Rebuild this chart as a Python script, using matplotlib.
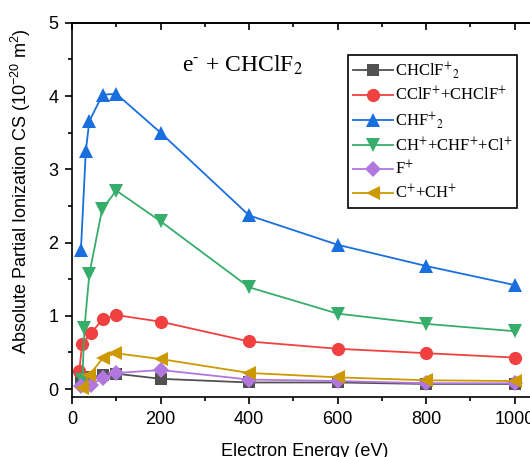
import numpy as np
import matplotlib
matplotlib.use('Agg')
import matplotlib.pyplot as plt
from matplotlib.ticker import MultipleLocator

e_chclf2 = [20, 40, 70, 100, 200, 400, 600, 800, 1000]
cs_chclf2 = [0.11, 0.16, 0.19, 0.21, 0.14, 0.09, 0.09, 0.07, 0.07]

e_cclf = [16, 23, 42, 69, 100, 200, 400, 600, 800, 1000]
cs_cclf = [0.24, 0.62, 0.76, 0.95, 1.01, 0.92, 0.65, 0.55, 0.49, 0.43]

e_chf2 = [20, 31, 39, 69, 100, 200, 400, 600, 800, 1000]
cs_chf2 = [1.90, 3.25, 3.66, 4.02, 4.03, 3.50, 2.37, 1.97, 1.68, 1.42]

e_ch = [23, 28, 39, 68, 100, 200, 400, 600, 800, 1000]
cs_ch = [0.12, 0.84, 1.57, 2.46, 2.71, 2.29, 1.39, 1.03, 0.89, 0.79]

e_f = [20, 42, 69, 100, 200, 400, 600, 800, 1000]
cs_f = [0.04, 0.06, 0.15, 0.22, 0.26, 0.13, 0.11, 0.08, 0.08]

e_c = [22, 39, 69, 98, 200, 400, 600, 800, 1000]
cs_c = [0.01, 0.19, 0.42, 0.49, 0.41, 0.22, 0.16, 0.12, 0.11]

labels = ['CHClF$^{+}$$_{2}$', 'CClF$^{+}$+CHClF$^{+}$', 'CHF$^{+}$$_{2}$',
          'CH$^{+}$+CHF$^{+}$+Cl$^{+}$', 'F$^{+}$', 'C$^{+}$+CH$^{+}$']


def main():
    fig = plt.figure(figsize=(5.3, 4.57), dpi=100)
    ax = fig.add_axes([0.136, 0.131, 0.877, 0.819])

    series = [
        (e_chclf2, cs_chclf2, '#515151', 's', 8.5),
        (e_cclf, cs_cclf, '#F14040', 'o', 9.5),
        (e_chf2, cs_chf2, '#1A6FDF', '^', 10.5),
        (e_ch, cs_ch, '#37AD6B', 'v', 10.5),
        (e_f, cs_f, '#B177DE', 'D', 8),
        (e_c, cs_c, '#CC9900', '<', 10.5),
    ]
    for (x, y, c, m, ms), lab in zip(series, labels):
        ax.plot(x, y, color=c, marker=m, markersize=ms, linewidth=1.3,
                markeredgewidth=0, label=lab)

    ax.set_xlim(0, 1050)
    ax.set_ylim(-0.11, 5)
    ax.xaxis.set_major_locator(MultipleLocator(200))
    ax.xaxis.set_minor_locator(MultipleLocator(100))
    ax.yaxis.set_major_locator(MultipleLocator(1))
    ax.yaxis.set_minor_locator(MultipleLocator(0.5))

    for s in ax.spines.values():
        s.set_linewidth(1.2)
    ax.tick_params(which='both', direction='out', width=1.2, labelsize=13,
                   top=False, right=False, pad=5)
    ax.tick_params(which='major', length=5)
    ax.tick_params(which='minor', length=3)

    # top ticks pointing in
    top = ax.secondary_xaxis('top')
    top.xaxis.set_major_locator(MultipleLocator(200))
    top.xaxis.set_minor_locator(MultipleLocator(100))
    top.tick_params(which='both', direction='in', width=1.2, labeltop=False)
    top.tick_params(which='major', length=5)
    top.tick_params(which='minor', length=3)
    top.spines['top'].set_linewidth(1.2)

    ax.set_xlabel('Electron Energy (eV)', fontsize=13, family='Liberation Sans',
                  labelpad=11)
    ax.set_ylabel('Absolute Partial Ionization CS (10$^{-20}$ m$^2$)', fontsize=13,
                  family='Liberation Sans', math_fontfamily='custom')
    ax.yaxis.set_label_coords(-0.085, 0.55)

    ax.text(0.237, 0.87, r'e$^{\text{-}}$ + CHClF$_{2}$', transform=ax.transAxes,
            fontsize=17, family='Liberation Serif', math_fontfamily='stix')

    leg = ax.legend(loc='upper left', bbox_to_anchor=(348 / 530, 1 - 55 / 457),
                    bbox_transform=fig.transFigure, fancybox=False,
                    edgecolor='black', framealpha=1, borderpad=0.3,
                    labelspacing=0.32, handlelength=2.4, handletextpad=0.1,
                    borderaxespad=0,
                    prop={'family': 'Liberation Serif', 'size': 12,
                          'math_fontfamily': 'stix'})
    leg.get_frame().set_linewidth(1.2)

    fig.savefig('out.png', dpi=100)


if __name__ == '__main__':
    plt.rcParams['mathtext.fontset'] = 'custom'
    plt.rcParams['mathtext.rm'] = 'Liberation Sans'
    plt.rcParams['mathtext.it'] = 'Liberation Sans:italic'
    plt.rcParams['font.family'] = 'Liberation Sans'
    main()
